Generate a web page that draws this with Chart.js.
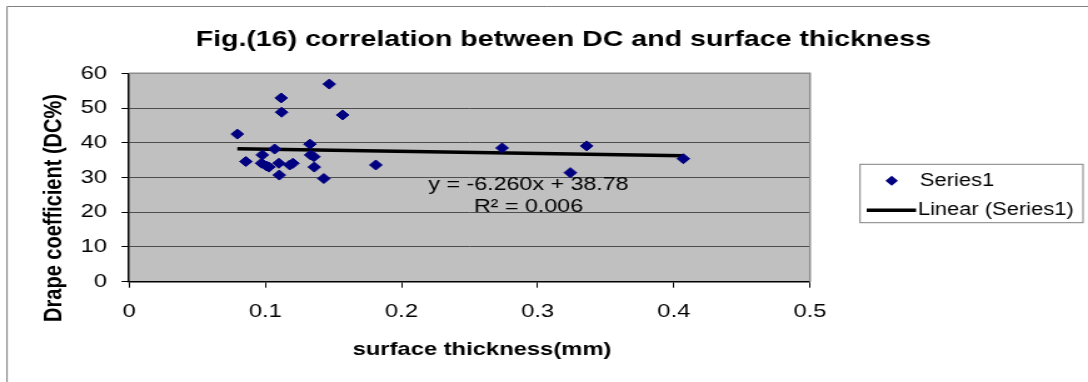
<!DOCTYPE html>
<html>
<head>
<meta charset="utf-8">
<title>Fig.(16) correlation between DC and surface thickness</title>
<script src="https://cdn.jsdelivr.net/npm/chart.js"></script>
<style>
    html, body { margin: 0; padding: 0; background: #ffffff; overflow: hidden; }
    /* the sheet is laid out narrow and widened sideways, like the stretched Excel export */
    #wrap { width: 870px; height: 382px; transform: scaleX(1.2506); transform-origin: 0 0; }
    canvas { display: block; }
</style>
</head>
<body>
<div id="wrap"><canvas id="dcChart" width="870" height="382"></canvas></div>

<script>
// measured samples: surface thickness (mm) vs drape coefficient (DC%)
const thickness = [0.0795, 0.0858, 0.0978, 0.0973, 0.101, 0.1027, 0.1069, 0.110, 0.1103, 0.1117,
                   0.112, 0.118, 0.1203, 0.1328, 0.1333, 0.1357, 0.136, 0.143, 0.147, 0.1568,
                   0.1812, 0.2739, 0.324, 0.336, 0.407];
const drapeCoef = [42.5, 34.6, 36.5, 34.1, 33.3, 33.0, 38.2, 34.1, 30.7, 52.9,
                   48.8, 33.6, 34.1, 39.6, 36.5, 36.0, 33.0, 29.7, 56.9, 48.0,
                   33.6, 38.5, 31.4, 39.1, 35.4];

// linear trendline as printed on the chart
const trendSlope = -6.260;
const trendIntercept = 38.78;
const trendR2 = 0.006;

const xTickLabels = ['0', '0.1', '0.2', '0.3', '0.4', '0.5'];
const yTickLabels = ['0', '10', '20', '30', '40', '50', '60'];

const seriesName = 'Series1';
const trendName = 'Linear (Series1)';

const FONT = "'Liberation Sans', Arial, sans-serif";

// trendline spans the sampled thickness range
const xMin = Math.min(...thickness);
const xMax = Math.max(...thickness);
const trendPoints = [xMin, xMax].map(x => ({ x: x, y: trendSlope * x + trendIntercept }));
const scatterPoints = thickness.map((t, i) => ({ x: t, y: drapeCoef[i] }));

// grey plot background + light frame on top/right
const plotFrame = {
    id: 'plotFrame',
    beforeDraw(chart) {
        const { ctx, chartArea: a } = chart;
        ctx.save();
        ctx.fillStyle = '#c0c0c0';
        ctx.fillRect(a.left, a.top, a.right - a.left, a.bottom - a.top);
        ctx.restore();
    },
    beforeDatasetsDraw(chart) {
        const { ctx, chartArea: a } = chart;
        ctx.save();
        ctx.strokeStyle = '#8c8c8c';
        ctx.lineWidth = 1.5;
        ctx.beginPath();
        ctx.moveTo(a.left, a.top);
        ctx.lineTo(a.right, a.top);
        ctx.lineTo(a.right, a.bottom);
        ctx.stroke();
        ctx.restore();
    }
};

// title, axis captions, equation and the boxed legend
const captions = {
    id: 'captions',
    afterDraw(chart) {
        const { ctx } = chart;
        ctx.save();

        // outer chart border (top and left edges visible)
        ctx.strokeStyle = '#808080';
        ctx.lineWidth = 1;
        ctx.beginPath();
        ctx.moveTo(5.6, 382);
        ctx.lineTo(5.6, 6.5);
        ctx.lineTo(870, 6.5);
        ctx.stroke();

        ctx.fillStyle = '#000000';
        ctx.textBaseline = 'alphabetic';
        ctx.textAlign = 'left';
        ctx.font = 'bold 22.8px ' + FONT;
        ctx.fillText('Fig.(16) correlation between DC and surface thickness', 156.5, 45.5);

        ctx.textBaseline = 'middle';
        ctx.textAlign = 'center';
        ctx.font = 'bold 19px ' + FONT;
        ctx.fillText('surface thickness(mm)', 385.4, 350);

        ctx.save();
        ctx.translate(43.7, 208);
        ctx.rotate(-Math.PI / 2);
        ctx.font = 'bold 20px ' + FONT;
        ctx.fillText('Drape coefficient (DC%)', 0, 0);
        ctx.restore();

        ctx.font = '18.6px ' + FONT;
        ctx.fillText('y = ' + trendSlope.toFixed(3) + 'x + ' + trendIntercept.toFixed(2), 422.6, 185);
        ctx.fillText('R\u00b2 = ' + trendR2.toFixed(3), 422.6, 207);

        // legend box
        const lx = 687.7, ly = 164.3, lw = 178.3, lh = 58.4;
        ctx.fillStyle = '#ffffff';
        ctx.fillRect(lx, ly, lw, lh);
        ctx.strokeStyle = '#808080';
        ctx.lineWidth = 1;
        ctx.strokeRect(lx, ly, lw, lh);

        const pts = chart.data.datasets[0];
        const mx = 713, my = 180.7, r = 5;
        ctx.fillStyle = pts.backgroundColor;
        ctx.beginPath();
        ctx.moveTo(mx - r, my);
        ctx.lineTo(mx, my - r);
        ctx.lineTo(mx + r, my);
        ctx.lineTo(mx, my + r);
        ctx.closePath();
        ctx.fill();

        const trend = chart.data.datasets[1];
        ctx.strokeStyle = trend.borderColor;
        ctx.lineWidth = trend.borderWidth;
        ctx.beginPath();
        ctx.moveTo(693, 210.3);
        ctx.lineTo(732.5, 210.3);
        ctx.stroke();

        ctx.fillStyle = '#000000';
        ctx.textAlign = 'left';
        ctx.font = '17.5px ' + FONT;
        ctx.fillText(seriesName, 735.6, 181);
        ctx.fillText(trendName, 734, 210.5);

        ctx.restore();
    }
};

new Chart(document.getElementById('dcChart'), {
    type: 'scatter',
    data: {
        datasets: [{
            label: seriesName,
            data: scatterPoints,
            pointStyle: 'rectRot',
            pointRadius: 5,
            pointHoverRadius: 5,
            backgroundColor: '#000080',
            borderColor: '#000080',
            borderWidth: 1,
            order: 0
        }, {
            type: 'line',
            label: trendName,
            data: trendPoints,
            borderColor: '#000000',
            borderWidth: 3.5,
            pointRadius: 0,
            fill: false,
            tension: 0,
            order: 1
        }]
    },
    options: {
        responsive: false,
        animation: false,
        events: [],
        layout: { padding: { top: 73.3, right: 222.3, left: 0, bottom: 0 } },
        plugins: {
            legend: { display: false },
            title: { display: false },
            tooltip: { enabled: false }
        },
        scales: {
            x: {
                type: 'linear',
                min: 0,
                max: 0.5,
                afterFit: s => { s.height = 100.3; },
                ticks: {
                    stepSize: 0.1,
                    padding: 12.5,
                    color: '#000000',
                    font: { family: FONT, size: 19 },
                    maxRotation: 0,
                    callback: (v, i) => xTickLabels[i]
                },
                grid: { drawOnChartArea: false, drawTicks: true, tickLength: 6, tickColor: '#000000' },
                border: { display: true, color: '#000000', width: 1.5 }
            },
            y: {
                min: 0,
                max: 60,
                afterFit: s => { s.width = 103.2; },
                ticks: {
                    stepSize: 10,
                    padding: 11.6,
                    color: '#000000',
                    font: { family: FONT, size: 19 },
                    callback: (v, i) => yTickLabels[i]
                },
                grid: { color: '#4d4d4d', lineWidth: 1, drawTicks: true, tickLength: 6, tickColor: '#000000' },
                border: { display: true, color: '#000000', width: 1.5 }
            }
        }
    },
    plugins: [plotFrame, captions]
});
</script>
</body>
</html>
